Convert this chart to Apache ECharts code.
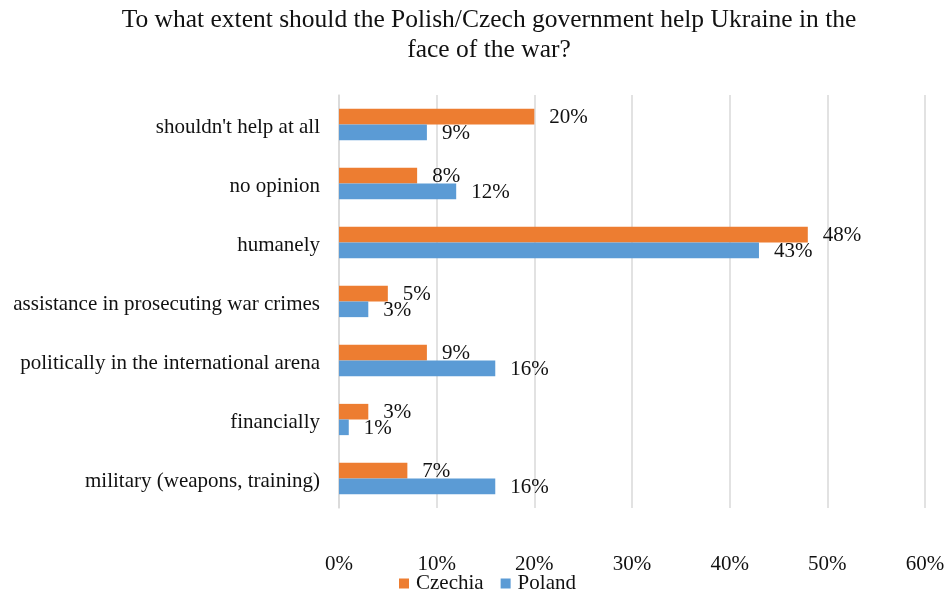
<!DOCTYPE html>
<html>
<head>
<meta charset="utf-8">
<script src="https://cdn.jsdelivr.net/npm/echarts@6/dist/echarts.min.js"></script>
<style>
  html, body { margin: 0; padding: 0; background: #fff; }
  #chart { width: 950px; height: 592px; }
</style>
</head>
<body>
<div id="chart"></div>
<script>
// Answer categories, listed top to bottom
const categories = [
  "shouldn't help at all",
  "no opinion",
  "humanely",
  "assistance in prosecuting war crimes",
  "politically in the international arena",
  "financially",
  "military (weapons, training)"
];
// Share of respondents, percent
const czechia = [20, 8, 48, 5, 9, 3, 7];
const poland = [9, 12, 43, 3, 16, 1, 16];
const xTicks = [0, 10, 20, 30, 40, 50, 60];

const font = '"Liberation Serif", "Times New Roman", serif';
const textColor = '#111111';

const chart = echarts.init(document.getElementById('chart'));

const labelStyle = {
  show: true,
  position: 'right',
  distance: 15,
  offset: [0, 1],
  formatter: p => p.value + '%',
  fontFamily: font,
  fontSize: 21,
  color: textColor
};

chart.setOption({
  animation: false,
  title: {
    text: 'To what extent should the Polish/Czech government help Ukraine in the\nface of the war?',
    left: 484,
    top: 0,
    textAlign: 'center',
    textStyle: {
      fontFamily: font,
      fontSize: 25.5,
      fontWeight: 'normal',
      color: textColor,
      lineHeight: 30
    }
  },
  legend: {
    data: ['Czechia', 'Poland'],
    left: 394,
    bottom: -7,
    itemWidth: 10,
    itemHeight: 10,
    itemGap: 17,
    icon: 'rect',
    textStyle: {
      fontFamily: font,
      fontSize: 21,
      color: textColor,
      padding: [0, 0, 0, 2]
    }
  },
  grid: { left: 339, right: 25, top: 95, bottom: 84 },
  xAxis: {
    type: 'value',
    min: xTicks[0],
    max: xTicks[xTicks.length - 1],
    interval: 10,
    axisLine: { show: false },
    axisTick: { show: false },
    axisLabel: {
      formatter: v => v + '%',
      fontFamily: font,
      fontSize: 21,
      color: textColor,
      margin: 46
    },
    splitLine: { show: true, lineStyle: { color: '#D9D9D9', width: 1.5 } }
  },
  yAxis: {
    type: 'category',
    data: categories,
    inverse: true,
    axisLine: { show: true, lineStyle: { color: '#D9D9D9', width: 1.5 } },
    axisTick: { show: false },
    axisLabel: {
      fontFamily: font,
      fontSize: 21,
      color: textColor,
      margin: 19,
      verticalAlign: 'top',
      lineHeight: 6
    }
  },
  series: [
    {
      name: 'Czechia',
      type: 'bar',
      data: czechia,
      itemStyle: { color: '#ED7D31' },
      barGap: '0%',
      barCategoryGap: '47%',
      label: labelStyle
    },
    {
      name: 'Poland',
      type: 'bar',
      data: poland,
      itemStyle: { color: '#5B9BD5' },
      barGap: '0%',
      barCategoryGap: '47%',
      label: labelStyle
    }
  ]
});
</script>
</body>
</html>
